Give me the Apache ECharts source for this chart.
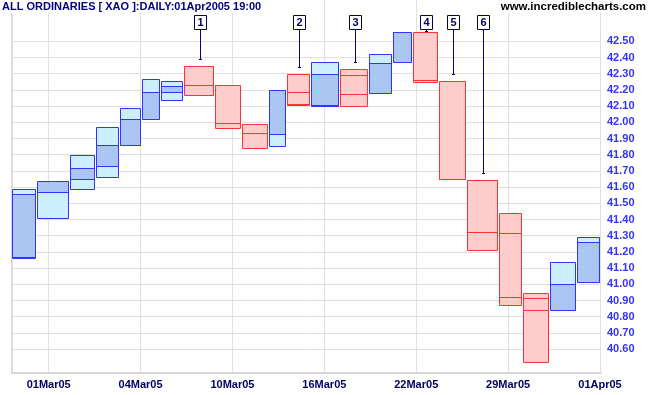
<!DOCTYPE html>
<html><head><meta charset="utf-8">
<script src="https://cdn.jsdelivr.net/npm/echarts@6/dist/echarts.min.js"></script>
<style>html,body{margin:0;padding:0;background:#fff}#c{width:651px;height:395px}</style>
</head><body><div id="c"></div>
<script>
// ---- data ----
const dates = ['28Feb05','01Mar05','02Mar05','03Mar05','04Mar05','07Mar05','08Mar05','09Mar05','10Mar05','11Mar05','14Mar05','15Mar05','16Mar05','17Mar05','18Mar05','21Mar05','22Mar05','23Mar05','24Mar05','29Mar05','30Mar05','31Mar05','01Apr05'];
const openP  = [41.17,41.57,41.65,41.73,41.86,42.02,42.19,42.35,42.23,41.99,41.93,42.185,42.109,42.294,42.179,42.37,42.556,42.253,41.642,41.315,40.914,40.84,41.012];
const highP  = [41.59,41.64,41.80,41.97,42.09,42.27,42.255,42.35,42.23,41.99,42.20,42.30,42.37,42.327,42.42,42.556,42.556,42.253,41.642,41.438,40.944,41.136,41.29];
const lowP   = [41.16,41.41,41.59,41.66,41.86,42.02,42.136,42.167,41.963,41.84,41.852,42.107,42.099,42.099,42.179,42.37,42.247,41.648,41.21,40.87,40.519,40.84,41.012];
const closeP = [41.56,41.64,41.72,41.86,42.02,42.19,42.224,42.228,41.994,41.932,42.20,42.113,42.296,42.177,42.364,42.556,42.261,41.648,41.321,40.92,40.84,41.004,41.259];
const volume = [247,330,260,240,220,196,234,305,275,270,180,240,290,290,240,200,260,275,325,240,270,270,240];
const xTickLabels = ['01Mar05','04Mar05','10Mar05','16Mar05','22Mar05','29Mar05','01Apr05'];
const yTickValues = [40.6,40.7,40.8,40.9,41.0,41.1,41.2,41.3,41.4,41.5,41.6,41.7,41.8,41.9,42.0,42.1,42.2,42.3,42.4,42.5];
const annotationLabels = ['1','2','3','4','5','6'];
const annotationDates = ['09Mar05','15Mar05','17Mar05','22Mar05','23Mar05','24Mar05'];
const titleText = 'ALL ORDINARIES [ XAO ]:DAILY:01Apr2005 19:00';
const siteText = 'www.incrediblecharts.com';

// ---- build ----
const FONT = '"Liberation Sans", Arial, sans-serif';
const starts = []; let acc = 0;
volume.forEach(v => { starts.push(acc); acc += v; });
const totalVol = acc;
const step = totalVol * 0.156;
const xTickPos = xTickLabels.map((_, i) => totalVol * (1 - 0.0017) - (xTickLabels.length - 1 - i) * step);

const boxData = dates.map((d, i) => [starts[i], starts[i] + volume[i], openP[i], closeP[i], lowP[i], highP[i]]);
const annData = annotationDates.map((d, k) => {
  const i = dates.indexOf(d);
  return [starts[i] + volume[i] / 2, highP[i], annotationLabels[k]];
});

const pc = document.createElement('canvas');
pc.width = 4; pc.height = 4;
const g = pc.getContext('2d');
g.fillStyle = '#a6c6f2'; g.fillRect(0, 0, 4, 4);
g.fillStyle = '#d2c4f6'; g.fillRect(1, 1, 1, 1); g.fillRect(3, 3, 1, 1);
const pattern = { image: pc, repeat: 'repeat' };

function renderBox(params, api) {
  const x0 = Math.round(api.coord([api.value(0), 0])[0]);
  const x1 = Math.round(api.coord([api.value(1), 0])[0]);
  const o = api.value(2), c = api.value(3);
  const yo = Math.round(api.coord([0, o])[1]) + 0.5;
  const yc = Math.round(api.coord([0, c])[1]) + 0.5;
  const yl = Math.round(api.coord([0, api.value(4)])[1]) + 0.5;
  const yh = Math.round(api.coord([0, api.value(5)])[1]) + 0.5;
  const up = c >= o;
  const stroke = up ? '#3333ff' : '#ff3333';
  const light = up ? '#cceeff' : '#ffcccc';
  const L = x0 + 0.5, R = x1 - 1.5;
  const children = [
    { type: 'rect', shape: { x: L, y: yh, width: R - L, height: yl - yh }, style: { fill: light, stroke: null } }
  ];
  if (up) {
    children.push({ type: 'rect', shape: { x: L, y: Math.min(yo, yc), width: R - L, height: Math.abs(yo - yc) }, style: { fill: pattern, stroke: null } });
  }
  children.push({ type: 'line', shape: { x1: L, y1: yo, x2: R, y2: yo }, style: { stroke: stroke, lineWidth: 1 } });
  children.push({ type: 'line', shape: { x1: L, y1: yc, x2: R, y2: yc }, style: { stroke: stroke, lineWidth: 1 } });
  children.push({ type: 'rect', shape: { x: L, y: yh, width: R - L, height: yl - yh }, style: { fill: null, stroke: stroke, lineWidth: 1 } });
  return { type: 'group', children: children };
}

function renderAnn(params, api) {
  const cx = Math.round(api.coord([api.value(0), 0])[0]) + 0.5;
  const yHigh = api.coord([0, api.value(1)])[1];
  const yEnd = Math.round(Math.max(yHigh - 7, 31)) + 0.5;
  const label = annData[params.dataIndex][2];
  return { type: 'group', children: [
    { type: 'line', shape: { x1: cx, y1: 29, x2: cx, y2: yEnd }, style: { stroke: '#000080', lineWidth: 1 } },
    { type: 'line', shape: { x1: cx - 1.5, y1: yEnd, x2: cx + 1.5, y2: yEnd }, style: { stroke: '#000080', lineWidth: 1 } },
    { type: 'rect', shape: { x: cx - 6, y: 15.5, width: 12, height: 14 }, style: { fill: '#ffffff', stroke: '#000066', lineWidth: 1 } },
    { type: 'text', x: cx, y: 23, style: { text: label, font: 'bold 11px ' + FONT, fill: '#000066', align: 'center', verticalAlign: 'middle' } }
  ]};
}

const chart = echarts.init(document.getElementById('c'), null, { renderer: 'canvas' });
chart.setOption({
  animation: false,
  backgroundColor: '#ffffff',
  grid: { left: 12, right: 50, top: 0, bottom: 22 },
  xAxis: {
    type: 'value', min: 0, max: totalVol,
    axisLine: { show: true, onZero: false, lineStyle: { color: '#d6d6d6', width: 2 } },
    axisTick: { show: false, customValues: xTickPos },
    axisLabel: { customValues: xTickPos, formatter: (v, i) => { let best = 0; xTickPos.forEach((p, k) => { if (Math.abs(p - v) < Math.abs(xTickPos[best] - v)) best = k; }); return xTickLabels[best]; },
      color: '#000066', fontWeight: 'bold', fontSize: 11, fontFamily: FONT, margin: 6 },
    splitLine: { show: true, lineStyle: { color: '#e0e0e0', width: 1 } }
  },
  yAxis: [{
    type: 'value', position: 'right', min: 40.4525, max: 42.755, scale: true,
    axisLine: { show: true, lineStyle: { color: '#d6d6d6', width: 2 } },
    axisTick: { show: false, customValues: yTickValues },
    axisLabel: { customValues: yTickValues, formatter: v => v.toFixed(2), color: '#3333ff', fontWeight: 'bold', fontSize: 11, fontFamily: FONT, margin: 6 },
    splitLine: { show: true, lineStyle: { color: '#e0e0e0', width: 1 } }
  }, {
    type: 'value', position: 'left', min: 40.4525, max: 42.755, scale: true,
    axisLine: { show: true, lineStyle: { color: '#e0e0e0', width: 1 } },
    axisTick: { show: false }, axisLabel: { show: false }, splitLine: { show: false }
  }],
  series: [
    { type: 'custom', renderItem: renderBox, data: boxData, encode: { x: [0, 1], y: [4, 5] }, clip: true },
    { type: 'custom', renderItem: renderAnn, data: annData.map(a => [a[0], a[1]]), encode: { x: 0, y: 1 }, clip: false, z: 5 }
  ],
  graphic: [
    { type: 'text', left: 0, top: 0, z: 100, style: { text: titleText, font: 'bold 11px ' + FONT, fill: '#000080', backgroundColor: '#ffffff', padding: [1, 2, 0, 2], lineHeight: 12 } },
    { type: 'text', right: 3, top: 0, z: 100, style: { text: siteText, font: 'bold 11.5px ' + FONT, fill: '#000000', backgroundColor: '#ffffff', padding: [1, 2, 0, 2], lineHeight: 12 } }
  ]
});
</script></body></html>
